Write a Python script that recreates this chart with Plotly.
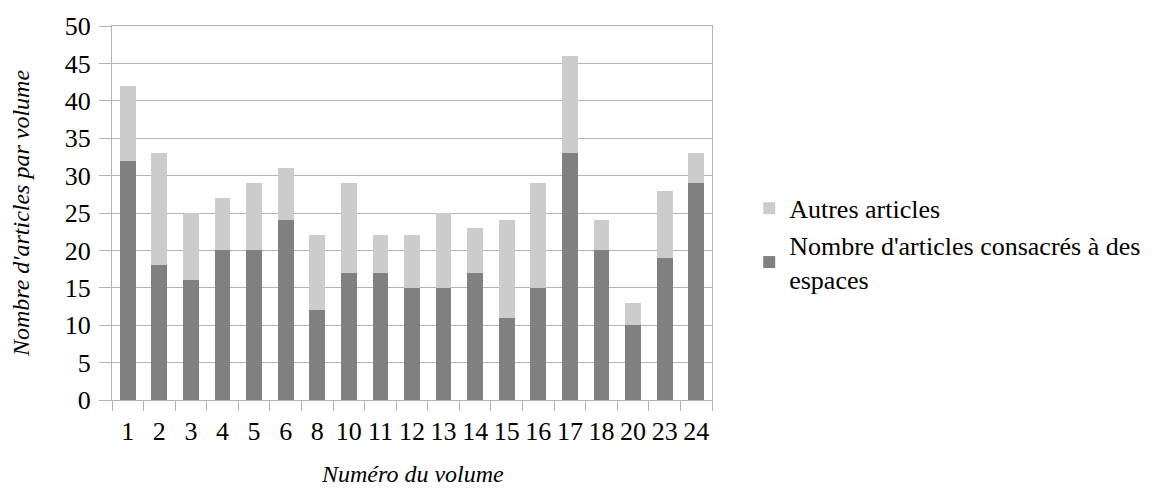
import plotly.graph_objects as go

volumes = ["1", "2", "3", "4", "5", "6", "8", "10", "11", "12", "13", "14", "15", "16", "17", "18", "20", "23", "24"]
espaces = [32, 18, 16, 20, 20, 24, 12, 17, 17, 15, 15, 17, 11, 15, 33, 20, 10, 19, 29]
totaux = [42, 33, 25, 27, 29, 31, 22, 29, 22, 22, 25, 23, 24, 29, 46, 24, 13, 28, 33]
autres = [t - e for t, e in zip(totaux, espaces)]

FONT = "Liberation Serif"

fig = go.Figure()
fig.add_trace(go.Bar(x=volumes, y=espaces, name="Nombre d'articles consacrés à des<br>espaces",
                     marker=dict(color="#808080", line=dict(width=0)), width=0.5))
fig.add_trace(go.Bar(x=volumes, y=autres, name="Autres articles",
                     marker=dict(color="#cccccc", line=dict(width=0)), width=0.5))

fig.update_layout(
    barmode="stack",
    width=1136, height=481,
    margin=dict(l=104, r=432, t=18, b=89, autoexpand=False),
    paper_bgcolor="white", plot_bgcolor="white",
    font=dict(family=FONT, color="black", size=26),
    legend=dict(traceorder="reversed", x=1.062, xanchor="left", y=0.575, yanchor="top",
                font=dict(size=26, family=FONT), itemwidth=30, tracegroupgap=0),
    xaxis=dict(type="category", showgrid=False, showline=True, linecolor="#b3b3b3", linewidth=1,
               mirror=True, ticks="outside", tickson="boundaries", ticklen=10, tickcolor="#b3b3b3",
               tickfont=dict(size=26), ticklabelstandoff=8, tickangle=0, automargin=False),
    yaxis=dict(range=[0, 50], dtick=5, showgrid=True, gridcolor="#b3b3b3", gridwidth=1,
               showline=True, linecolor="#b3b3b3", mirror=True, ticks="outside", ticklen=12,
               tickcolor="#b3b3b3", tickfont=dict(size=26), zeroline=False, ticklabelstandoff=3,
               automargin=False,
               title=dict(text="<i>Nombre d'articles par volume</i>", font=dict(size=24), standoff=32)),
    annotations=[dict(text="<i>Numéro du volume</i>", xref="paper", yref="paper", x=0.5, y=-0.199,
                      xanchor="center", yanchor="middle", showarrow=False,
                      font=dict(size=24, family=FONT, color="black"))],
)
fig.write_html("out.html")
